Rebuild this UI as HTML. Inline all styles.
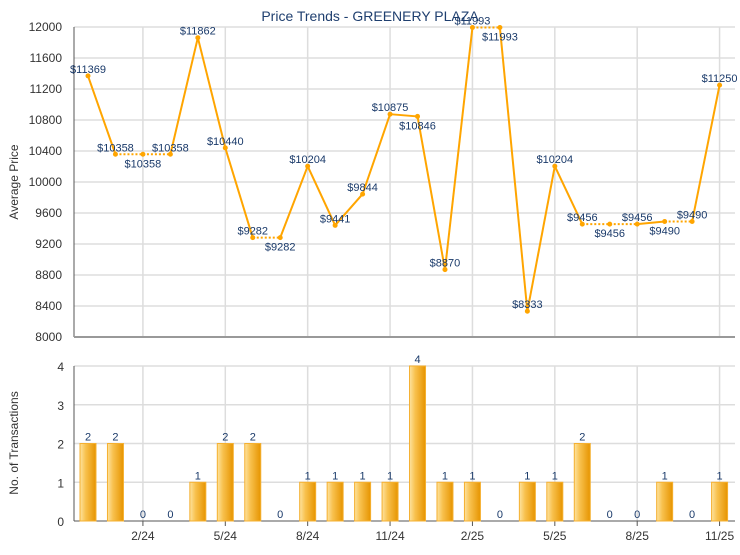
<!DOCTYPE html><html><head><meta charset="utf-8"><style>
body{margin:0;background:#fff;}
svg{font-family:"Liberation Sans",Arial,sans-serif;}
</style></head><body>
<svg id="s" width="740" height="550" xmlns="http://www.w3.org/2000/svg">
<defs><linearGradient id="g" x1="0" x2="1"><stop offset="0" stop-color="#fde3a0"/><stop offset="0.35" stop-color="#f8c14e"/><stop offset="1" stop-color="#e69400"/></linearGradient></defs>
<rect width="740" height="550" fill="#fff"/>
<text x="370" y="21" text-anchor="middle" font-size="14" fill="#1f3f6f">Price Trends - GREENERY PLAZA</text>
</svg>
<script>
const s=document.getElementById('s');const NS='http://www.w3.org/2000/svg';
function el(t,a,txt){const e=document.createElementNS(NS,t);for(const k in a)e.setAttribute(k,a[k]);if(txt!==undefined)e.textContent=txt;s.appendChild(e);return e;}
const L=74,R=735,T=27,B=337,BT=366,BB=521;
const X=i=>88+27.46*i;
const Y=v=>B-(v-8000)/4000*310;
const YB=c=>BB-c*(BB-BT)/4;
const P=[11369,10358,10358,10358,11862,10440,9282,9282,10204,9441,9844,10875,10846,8870,11993,11993,8333,10204,9456,9456,9456,9490,9490,11250];
const C=[2,2,0,0,1,2,2,0,1,1,1,1,4,1,1,0,1,1,2,0,0,1,0,1];
for(let v=8000;v<=12000;v+=400){const y=Y(v);if(v>8000)el('line',{x1:L,x2:R,y1:y,y2:y,stroke:'#ddd','stroke-width':1.5});el('text',{x:62,y:y+4,'text-anchor':'end','font-size':12,fill:'#333'},v);}
for(let c=0;c<=4;c++){const y=YB(c);if(c>0)el('line',{x1:L,x2:R,y1:y,y2:y,stroke:'#ddd','stroke-width':1.5});el('text',{x:64,y:y+5,'text-anchor':'end','font-size':12,fill:'#333'},c);}
const lab=['2/24','5/24','8/24','11/24','2/25','5/25','8/25','11/25'];
[2,5,8,11,14,17,20,23].forEach((i,k)=>{const x=X(i);el('line',{x1:x,x2:x,y1:T,y2:B,stroke:'#ddd','stroke-width':1.5});el('line',{x1:x,x2:x,y1:BT,y2:BB,stroke:'#ddd','stroke-width':1.5});el('line',{x1:x,x2:x,y1:BB,y2:BB+5,stroke:'#555'});el('text',{x:x,y:540,'text-anchor':'middle','font-size':12,fill:'#333'},lab[k]);});
el('line',{x1:L,x2:L,y1:T,y2:B,stroke:'#555'});el('line',{x1:L,x2:R,y1:B,y2:B,stroke:'#999','stroke-width':2});
el('line',{x1:L,x2:L,y1:BT,y2:BB,stroke:'#555'});el('line',{x1:L,x2:R,y1:BB,y2:BB,stroke:'#555'});
el('text',{x:18,y:182,'text-anchor':'middle','font-size':12,fill:'#333',transform:'rotate(-90 18 182)'},'Average Price');
el('text',{x:18,y:443,'text-anchor':'middle','font-size':12,fill:'#333',transform:'rotate(-90 18 443)'},'No. of Transactions');
for(let i=0;i<23;i++){const d=C[i+1]==0;const a={x1:X(i),y1:Y(P[i]),x2:X(i+1),y2:Y(P[i+1]),stroke:'#ffa500','stroke-width':2};if(d)a['stroke-dasharray']='2,2';el('line',a);}
const below=[2,7,12,15,19,21];
for(let i=0;i<24;i++){const x=X(i),y=Y(P[i]);el('circle',{cx:x,cy:y,r:2.5,fill:'#ffa500'});const b=below.includes(i);el('text',{x:x,y:b?y+13:y-3,'text-anchor':'middle','font-size':11,fill:'#1a3a6a'},'$'+P[i]);}
for(let i=0;i<24;i++){const x=X(i);if(C[i]>0)el('rect',{x:x-8,y:YB(C[i]),width:16,height:BB-YB(C[i]),fill:'url(#g)',stroke:'#f5b030','stroke-width':1});el('text',{x:x,y:YB(C[i])-3,'text-anchor':'middle','font-size':11,fill:'#1a3a6a'},C[i]);}
</script>
</body></html>
